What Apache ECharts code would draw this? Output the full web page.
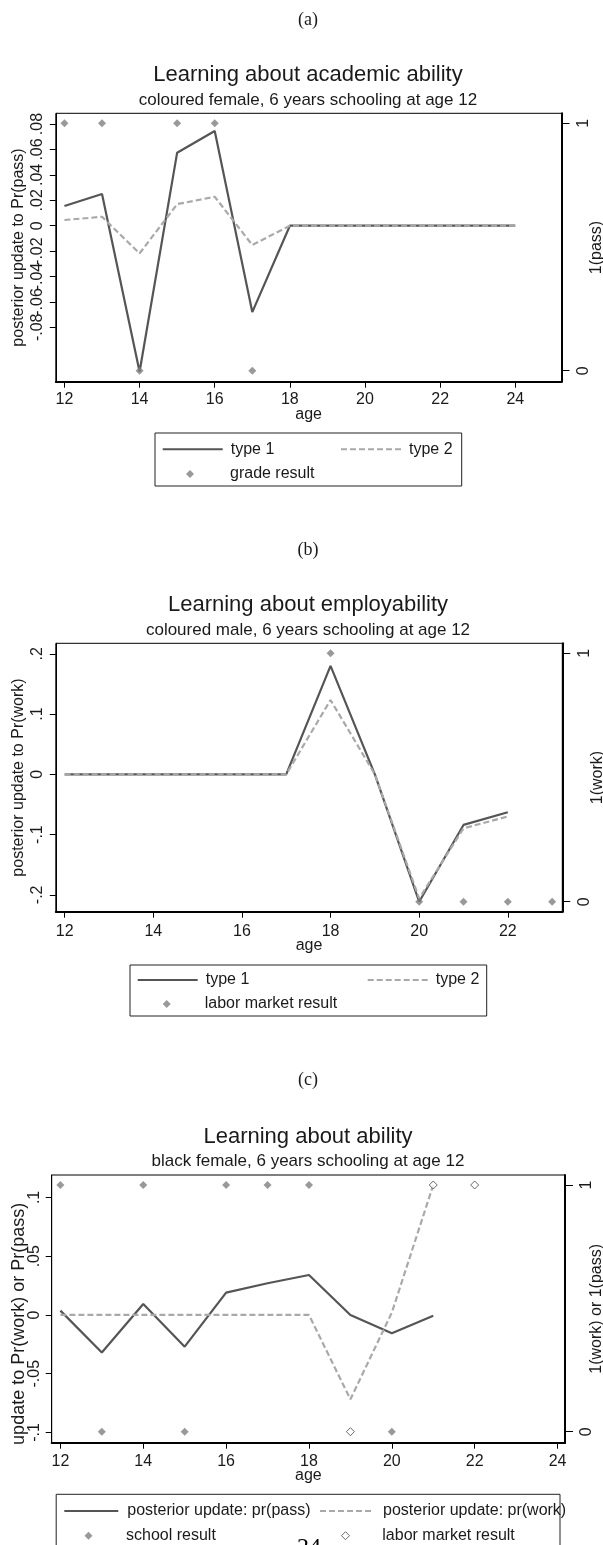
<!DOCTYPE html>
<html><head><meta charset="utf-8">
<script src="https://cdn.jsdelivr.net/npm/echarts@6/dist/echarts.min.js"></script>
<style>html,body{margin:0;padding:0;background:#fff}#c{width:603px;height:1545px}</style>
</head><body><div id="c"></div>
<script>
// ---------- Panel (a): Learning about academic ability ----------
const agesA = [12, 13, 14, 15, 16, 17, 18, 19, 20, 21, 22, 23, 24];
const type1A = [0.0155, 0.025, -0.115, 0.0575, 0.0746, -0.068, 0, 0, 0, 0, 0, 0, 0];
const type2A = [0.0045, 0.007, -0.0218, 0.017, 0.0228, -0.0152, 0, 0, 0, 0, 0, 0, 0];
const gradeAgesA = [12, 13, 14, 15, 16, 17];
const gradeA = [1, 1, 0, 1, 1, 0];
const xTicksA = [12, 14, 16, 18, 20, 22, 24];
const yTicksA = [-0.08, -0.06, -0.04, -0.02, 0, 0.02, 0.04, 0.06, 0.08];

// ---------- Panel (b): Learning about employability ----------
const agesB = [12, 13, 14, 15, 16, 17, 18, 19, 20, 21, 22];
const type1B = [0, 0, 0, 0, 0, 0, 0.18, 0, -0.2115, -0.084, -0.063];
const type2B = [0, 0, 0, 0, 0, 0, 0.1233, 0, -0.206, -0.0896, -0.07];
const laborAgesB = [18, 20, 21, 22, 23];
const laborB = [1, 0, 0, 0, 0];
const xTicksB = [12, 14, 16, 18, 20, 22];
const yTicksB = [-0.2, -0.1, 0, 0.1, 0.2];

// ---------- Panel (c): Learning about ability ----------
const agesC = [12, 13, 14, 15, 16, 17, 18, 19, 20, 21];
const passC = [0.0037, -0.032, 0.0094, -0.027, 0.019, 0.027, 0.034, 0, -0.0156, -0.0006];
const workC = [0, 0, 0, 0, 0, 0, 0, -0.0718, 0.002, 0.1106];
const schoolAgesC = [12, 13, 14, 15, 16, 17, 18, 20];
const schoolC = [1, 0, 1, 0, 1, 1, 1, 0];
const laborAgesC = [19, 21, 22];
const laborC = [0, 1, 1];
const xTicksC = [12, 14, 16, 18, 20, 22, 24];
const yTicksC = [-0.1, -0.05, 0, 0.05, 0.1];
const rightTicks = [0, 1];

const FONT = '"Liberation Sans", Arial, sans-serif';
const SERIF = '"Liberation Serif", "DejaVu Serif", serif';
const TXT = '#1a1a1a';
const DARK = '#555555';
const LIGHT = '#a9a9a9';
const MARK = '#808080';

function fmt(v) {
  if (Math.abs(v) < 1e-9) return '0';
  const s = String(Math.abs(+(+v).toFixed(4))).replace(/^0/, '');
  return (v < 0 ? '-' : '') + s;
}
function pairs(xs, ys) { return xs.map((x, i) => [x, ys[i]]); }
const evens = a => a.filter((v, i) => i % 2 === 0);
const odds = a => a.filter((v, i) => i % 2 === 1);

function xAx(gi, min, max, ticks, margin, gap) {
  return {
    type: 'value', gridIndex: gi, min: min, max: max,
    name: 'age', nameLocation: 'middle', nameGap: gap, nameMoveOverlap: false,
    nameTextStyle: { fontFamily: FONT, fontSize: 16, color: TXT },
    axisLine: { show: true, onZero: false, lineStyle: { color: '#000', width: 2 } },
    axisTick: { show: true, length: 6, customValues: ticks, lineStyle: { color: '#000', width: 1 } },
    axisLabel: { customValues: ticks, hideOverlap: false, margin: margin, fontFamily: FONT, fontSize: 16, color: TXT },
    splitLine: { show: false }
  };
}
function yLeft(gi, min, max, ticks, labels, name, gap, margin, nameSize, namePad) {
  return {
    type: 'value', gridIndex: gi, position: 'left', min: min, max: max,
    name: name, nameLocation: 'middle', nameGap: gap, nameMoveOverlap: false,
    nameTextStyle: { fontFamily: FONT, fontSize: nameSize || 16, color: TXT, padding: namePad || 0 },
    axisLine: { show: true, onZero: false, lineStyle: { color: '#000', width: 1 } },
    axisTick: { show: true, length: 6, customValues: ticks, lineStyle: { color: '#000', width: 1 } },
    axisLabel: { customValues: labels, hideOverlap: false, rotate: 90, margin: margin, fontFamily: FONT, fontSize: 16, color: TXT, formatter: fmt },
    splitLine: { show: false }
  };
}
// label-only companion axis (same scale) so that tightly packed labels are all drawn
function yLabelsOnly(gi, min, max, labels, margin) {
  return {
    type: 'value', gridIndex: gi, position: 'left', offset: 0, min: min, max: max,
    axisLine: { show: false, onZero: false }, axisTick: { show: false },
    axisLabel: { customValues: labels, hideOverlap: false, rotate: 90, margin: margin, fontFamily: FONT, fontSize: 16, color: TXT, formatter: fmt },
    splitLine: { show: false }
  };
}
function yRight(gi, min, max, name, gap) {
  return {
    type: 'value', gridIndex: gi, position: 'right', min: min, max: max,
    name: name, nameLocation: 'middle', nameGap: gap, nameMoveOverlap: false,
    nameTextStyle: { fontFamily: FONT, fontSize: 16, color: TXT },
    axisLine: { show: true, onZero: false, lineStyle: { color: '#000', width: 2 } },
    axisTick: { show: true, length: 8, customValues: rightTicks, lineStyle: { color: '#000', width: 1 } },
    axisLabel: { customValues: rightTicks, hideOverlap: false, rotate: 90, margin: 14, fontFamily: FONT, fontSize: 16, color: TXT },
    splitLine: { show: false }
  };
}
function solid(name, xi, yi, xs, ys) {
  return { name: name, type: 'line', xAxisIndex: xi, yAxisIndex: yi, data: pairs(xs, ys),
    symbol: 'none', lineStyle: { color: DARK, width: 2.2 }, itemStyle: { color: DARK }, z: 2 };
}
function dashed(name, xi, yi, xs, ys) {
  return { name: name, type: 'line', xAxisIndex: xi, yAxisIndex: yi, data: pairs(xs, ys),
    symbol: 'none', lineStyle: { color: LIGHT, width: 2.2, type: [6, 3] }, itemStyle: { color: LIGHT }, z: 3 };
}
function dots(name, xi, yi, xs, ys, hollow) {
  return { name: name, type: 'scatter', xAxisIndex: xi, yAxisIndex: yi, data: pairs(xs, ys),
    symbol: 'diamond', symbolSize: 8,
    itemStyle: hollow ? { color: '#fff', borderColor: '#444', borderWidth: 1 } : { color: MARK },
    z: 4 };
}
function legLine(name, left, top, w, pad) {
  return { show: true, data: [name], left: left, top: top, padding: 0, itemWidth: w, itemHeight: 14,
    selectedMode: false, itemStyle: { opacity: 0 },
    textStyle: { fontFamily: FONT, fontSize: 16, color: TXT, padding: [0, 0, 0, pad] } };
}
function legDot(name, left, top, pad, hollow) {
  return { show: true, data: [name], left: left, top: top, padding: 0, itemWidth: 8, itemHeight: 8,
    selectedMode: false,
    itemStyle: hollow ? { color: '#fff', borderColor: '#444', borderWidth: 1 } : { color: MARK, borderWidth: 0 },
    textStyle: { fontFamily: FONT, fontSize: 16, color: TXT, padding: [0, 0, 0, pad] } };
}
function ttl(text, center, top, size, family) {
  return { text: text, left: center, top: top, textAlign: 'center', padding: 0,
    textStyle: { fontFamily: family || FONT, fontSize: size, fontWeight: 'normal', color: TXT } };
}
const gridBase = { show: true, borderColor: '#000', borderWidth: 1, outerBoundsMode: 'none', containLabel: false };

const chart = echarts.init(document.getElementById('c'), null, { renderer: 'canvas' });
chart.setOption({
  backgroundColor: '#fff',
  animation: false,
  title: [
    ttl('(a)', 308, 11, 18, SERIF),
    ttl('Learning about academic ability', 308, 64, 22),
    ttl('coloured female, 6 years schooling at age 12', 308, 92, 17),
    ttl('(b)', 308, 541, 18, SERIF),
    ttl('Learning about employability', 308, 594, 22),
    ttl('coloured male, 6 years schooling at age 12', 308, 622, 17),
    ttl('(c)', 308, 1071, 18, SERIF),
    ttl('Learning about ability', 308, 1126, 22),
    ttl('black female, 6 years schooling at age 12', 308, 1153, 17)
  ],
  grid: [
    Object.assign({ left: 55.8, right: 41.5, top: 113.3, height: 268.4 }, gridBase),
    Object.assign({ left: 55.8, right: 40.7, top: 643.3, height: 268.4 }, gridBase),
    Object.assign({ left: 51.7, right: 38, top: 1175, height: 267.7 }, gridBase)
  ],
  xAxis: [
    xAx(0, 11.77, 25.23, xTicksA, 10, 25),
    xAx(1, 11.8, 23.23, xTicksB, 12, 26),
    xAx(2, 11.79, 24.18, xTicksC, 11, 25)
  ],
  yAxis: [
    yLeft(0, -0.1228, 0.0885, yTicksA, evens(yTicksA), 'posterior update to Pr(pass)', 29, 10),
    yRight(0, -0.0445, 1.0404, '1(pass)', 27),
    yLeft(1, -0.228, 0.2174, yTicksB, yTicksB, 'posterior update to Pr(work)', 29, 10),
    yRight(1, -0.0403, 1.040, '1(work)', 27),
    yLeft(2, -0.1087, 0.1191, yTicksC, yTicksC, 'update to Pr(work) or Pr(pass)', 24, 9, 18, [0, 30, 0, 0]),
    yRight(2, -0.0446, 1.0405, '1(work) or 1(pass)', 24),
    yLabelsOnly(0, -0.1228, 0.0885, odds(yTicksA), 10)
  ],
  legend: [
    legLine('type 1', 161.7, 441.3, 60, 3),
    legLine('type 2', 340, 441.3, 63, 0),
    legDot('grade result', 186, 466, 31, false),
    legLine('type 1', 136.7, 972, 60, 3),
    legLine('type 2', 366.7, 972, 60, 3),
    legDot('labor market result', 162.7, 996, 29, false),
    legLine('posterior update: pr(pass)', 63.3, 1503, 54, 4),
    legLine('posterior update: pr(work)', 319, 1503, 53, 5),
    legDot('school result', 84.5, 1527.7, 28.5, false),
    legDot('labor market result ', 341, 1527.7, 27.8, true)
  ],
  graphic: [
    { type: 'rect', shape: { x: 155, y: 433, width: 306.7, height: 53 }, style: { fill: 'none', stroke: '#222', lineWidth: 1 }, silent: true },
    { type: 'rect', shape: { x: 130, y: 965, width: 356.7, height: 51 }, style: { fill: 'none', stroke: '#222', lineWidth: 1 }, silent: true },
    { type: 'rect', shape: { x: 56.2, y: 1494.3, width: 503.8, height: 70 }, style: { fill: 'none', stroke: '#222', lineWidth: 1 }, silent: true },
    { type: 'text', x: 309, y: 1536, style: { text: '24', fontFamily: SERIF, fontSize: 24, fill: '#000', textAlign: 'center', textVerticalAlign: 'top' }, silent: true, z: 10 }
  ],
  series: [
    solid('type 1', 0, 0, agesA, type1A),
    dashed('type 2', 0, 0, agesA, type2A),
    dots('grade result', 0, 1, gradeAgesA, gradeA, false),
    solid('type 1', 1, 2, agesB, type1B),
    dashed('type 2', 1, 2, agesB, type2B),
    dots('labor market result', 1, 3, laborAgesB, laborB, false),
    solid('posterior update: pr(pass)', 2, 4, agesC, passC),
    dashed('posterior update: pr(work)', 2, 4, agesC, workC),
    dots('school result', 2, 5, schoolAgesC, schoolC, false),
    dots('labor market result ', 2, 5, laborAgesC, laborC, true)
  ]
});
</script>
</body></html>
